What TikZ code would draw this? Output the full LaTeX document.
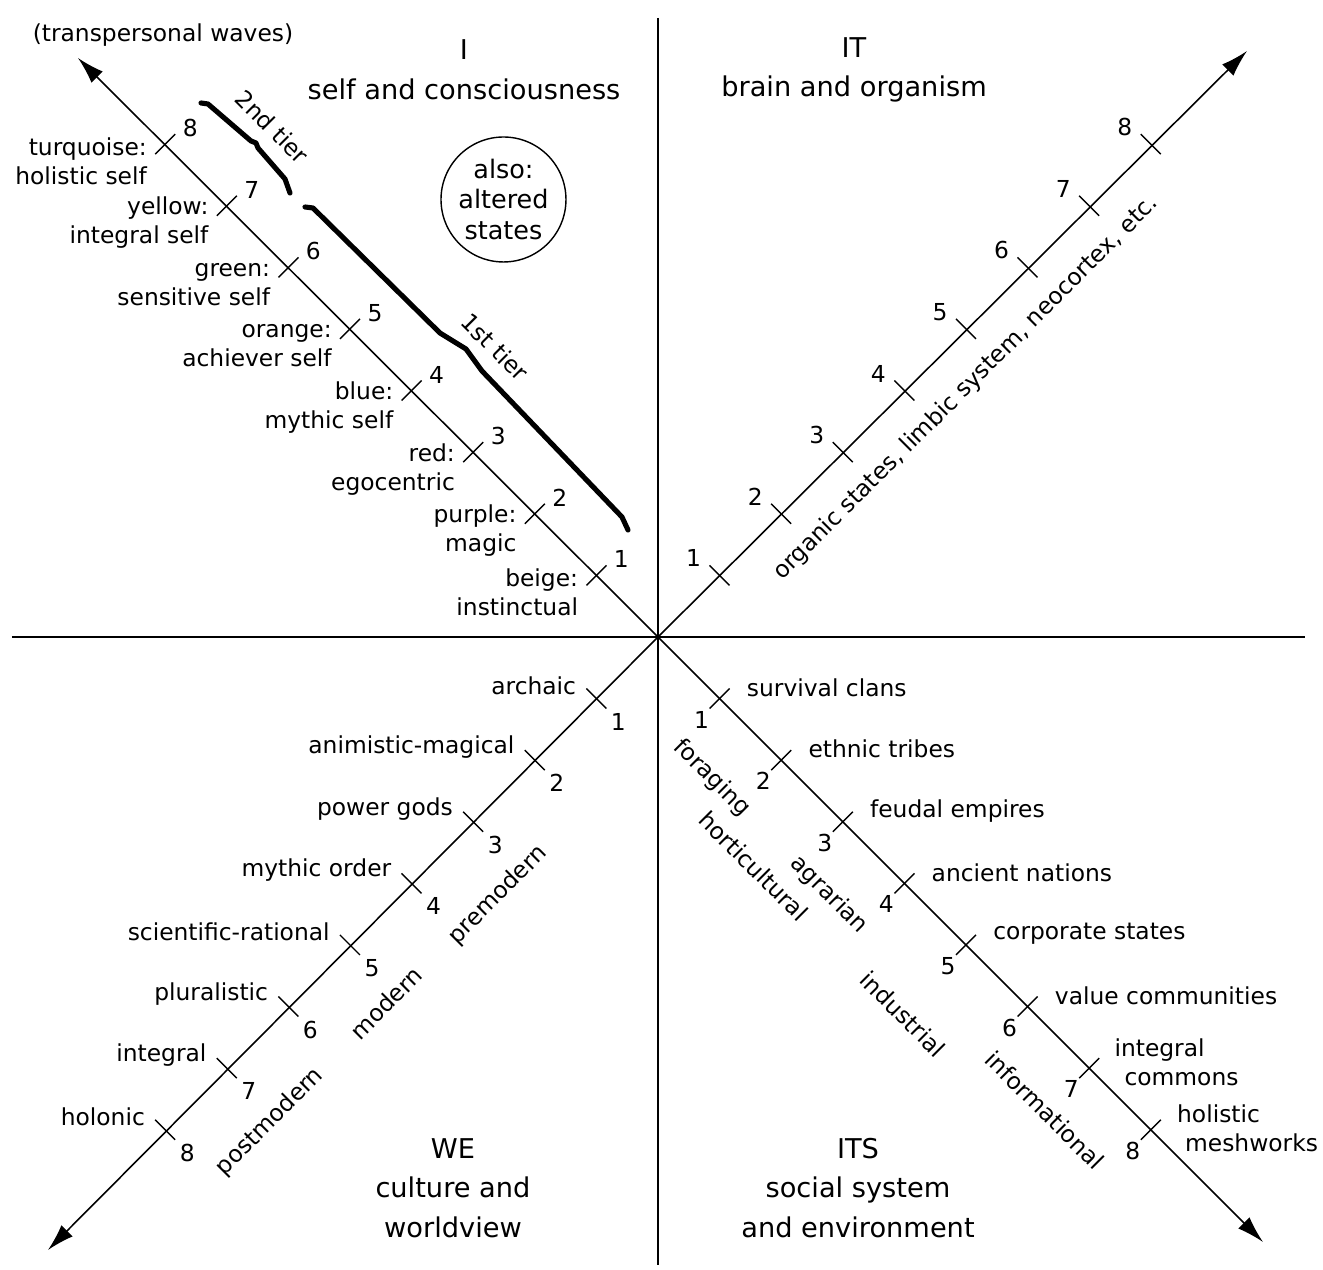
\documentclass[tikz,border=0pt]{standalone}
\usepackage{fontspec}
\setmainfont{DejaVu Sans}
\usetikzlibrary{arrows.meta}

\begin{document}
\begin{tikzpicture}[x=0.02cm, y=0.02cm, >={Latex[length=5.4mm,width=3.2mm]},
    lbl/.style={inner sep=0pt, font=\fontsize{13.3}{16.5}\selectfont},
    head/.style={inner sep=0pt, align=center, font=\fontsize{15.5}{22.5}\selectfont},
    tickmark/.style={line width=0.8pt},
    axisline/.style={line width=0.9pt},
    tier/.style={line width=2.9pt, line cap=round, line join=round}]
\useasboundingbox (-658,-633) rectangle (665,637);
% quadrant lines:
\coordinate (o) at (0,0);
\coordinate (vtop) at (0,619);
\coordinate (vbot) at (0,-628);
\coordinate (hleft) at (-646,0);
\coordinate (hright) at (647,0);
\draw[axisline] (vtop) -- (vbot);
\draw[axisline] (hleft) -- (hright);
% diagonal axes:
\coordinate (ul) at (-580,579);
\coordinate (ur) at (589,586);
\coordinate (ll) at (-610,-613);
\coordinate (lr) at (605,-605);
\foreach \a in {ul,ur,ll,lr} \draw[axisline,->] (o) -- (\a);
% ticks and numbers:
\foreach \k in {1,...,8} {
  \coordinate (ul\k) at (-61.6*\k,61.6*\k);
  \coordinate (ur\k) at (61.6*\k,61.6*\k);
  \coordinate (ll\k) at (-61.6*\k,-61.6*\k);
  \coordinate (lr\k) at (61.6*\k,-61.6*\k);
  \draw[tickmark,shift={(ul\k)}] (-10,-10) -- (10,10);
  \draw[tickmark,shift={(ur\k)}] (-10,10) -- (10,-10);
  \draw[tickmark,shift={(ll\k)}] (-10,10) -- (10,-10);
  \draw[tickmark,shift={(lr\k)}] (-10,-10) -- (10,10);
  \node[lbl] (ulnum\k) at ([shift={(25,16)}]ul\k) {\k};
  \node[lbl] (urnum\k) at ([shift={(-26,17)}]ur\k) {\k};
  \node[lbl] (llnum\k) at ([shift={(22,-23)}]ll\k) {\k};
  \node[lbl] (lrnum\k) at ([shift={(-18,-21)}]lr\k) {\k};
}
% I: levels of self
\foreach \k/\t in {1/{beige:\\instinctual}, 2/{purple:\\magic}, 3/{red:\\egocentric},
    4/{blue:\\mythic self}, 5/{orange:\\achiever self}, 6/{green:\\sensitive self},
    7/{yellow:\\integral self}, 8/{turquoise:\\holistic self}}
  \node[lbl, align=right, anchor=east] (ullbl\k) at ([shift={(-18,-17)}]ul\k) {\t};
\node[lbl] (transp) at (-495,602) {(transpersonal waves)};
% tier brackets:
\coordinate (t2a) at (-457,534);
\coordinate (t2b) at (-368,444);
\coordinate (t1a) at (-353,430);
\coordinate (t1b) at (-30,107);
\draw[tier] (t2a) -- ++(7,-1) -- (-407,496) -- (-402,494) -- (-400,489) -- (-373,458) -- (t2b);
\draw[tier] (t1a) -- ++(8,-1) -- (-218,304) -- (-192,288) -- (-176,266) -- (-36,120) -- (t1b);
\node[lbl, rotate=-45] (tier2) at (-385.5,510) {2nd tier};
\node[lbl, rotate=-45] (tier1) at (-163,290) {1st tier};
\node[draw, circle, line width=0.8pt, minimum size=2.5cm, inner sep=0pt, align=center,
  font=\fontsize{14.5}{17.6}\selectfont] (states) at (-154.5,437.5) {also:\\altered\\states};
% IT
\node[lbl, rotate=45] (organic) at (308,249) {organic states, limbic system, neocortex, etc.};
% WE
\foreach \k/\t in {1/archaic, 2/animistic-magical, 3/power gods, 4/mythic order,
    5/scientific-rational, 6/pluralistic, 7/integral, 8/holonic}
  \node[lbl, anchor=east] (lllbl\k) at ([shift={(-20,13)}]ll\k) {\t};
\node[lbl, rotate=45] (premod) at (-160,-258) {premodern};
\node[lbl, rotate=45] (modern) at (-272,-366) {modern};
\node[lbl, rotate=45] (postmod) at (-388,-485) {postmodern};
% ITS
\foreach \k/\t in {1/survival clans, 2/ethnic tribes, 3/feudal empires, 4/ancient nations,
    5/corporate states, 6/value communities}
  \node[lbl, anchor=west] (lrlbl\k) at ([shift={(27,11)}]lr\k) {\t};
\node[lbl, align=left, anchor=west] (lrlbl7) at ([shift={(25,6)}]lr7) {integral\\\hspace*{0.2cm}commons};
\node[lbl, align=left, anchor=west] (lrlbl8) at ([shift={(26,2)}]lr8) {holistic\\\hspace*{0.16cm}meshworks};
\node[lbl, rotate=-45] (forag) at (54,-141) {foraging};
\node[lbl, rotate=-45] (hortic) at (96,-229) {horticultural};
\node[lbl, rotate=-45] (agrar) at (171,-258) {agrarian};
\node[lbl, rotate=-45] (indus) at (245,-377) {industrial};
\node[lbl, rotate=-45] (inform) at (387,-473) {informational};
% quadrant headings:
\node[head] (iq) at (-194,567) {I\\self and consciousness};
\node[head] (itq) at (196,567) {IT\\brain and organism};
\node[head] (weq) at (-205,-551) {WE\\culture and\\worldview};
\node[head] (itsq) at (200,-551) {ITS\\social system\\and environment};
\end{tikzpicture}
\end{document}
